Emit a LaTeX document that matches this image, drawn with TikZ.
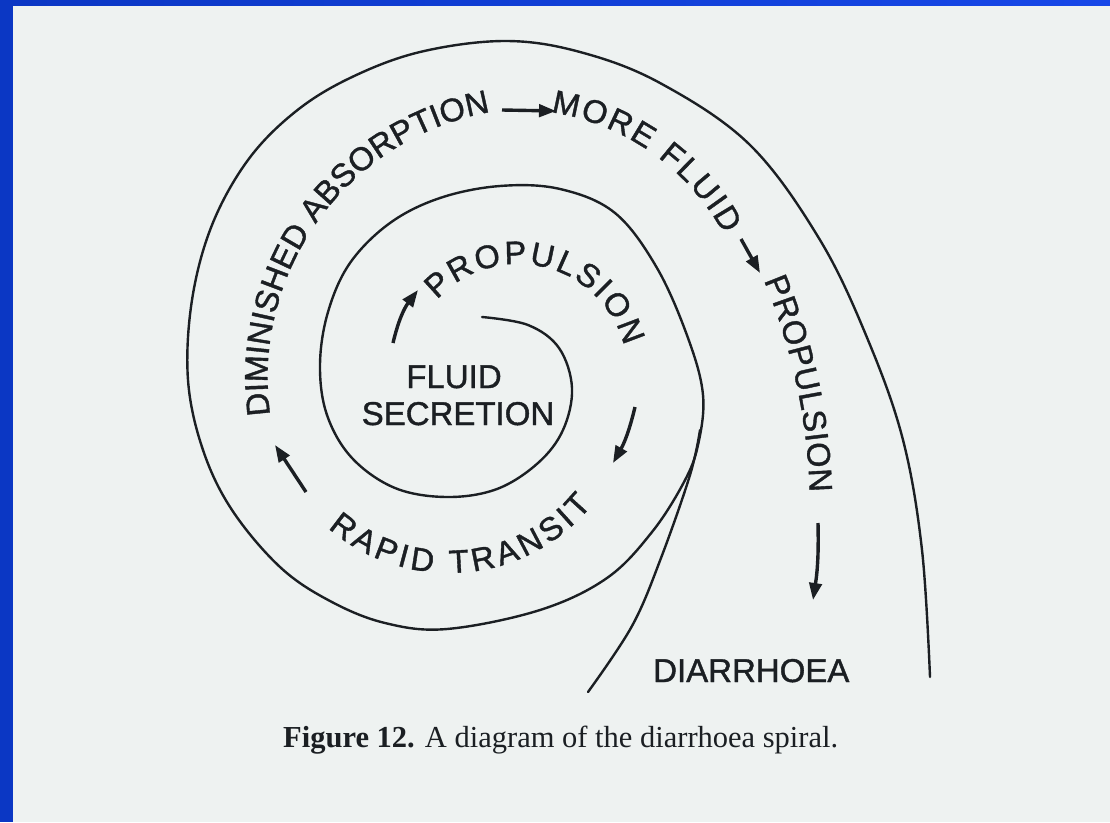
\documentclass[tikz,border=0pt]{standalone}
\usepackage{fontspec}
\setmainfont{Liberation Sans}
\newfontfamily\heavysans[FakeBold=1.2]{Liberation Sans}
\newfontfamily\capfont{Liberation Serif}
\usetikzlibrary{decorations.text,arrows.meta}
\definecolor{page}{HTML}{EEF2F1}
\definecolor{ink}{HTML}{1B1F23}
\definecolor{frameblue}{HTML}{0B37C4}
\definecolor{frameblueb}{HTML}{1748E8}
\newcommand\lblfont{\heavysans\fontsize{33}{36}\selectfont}
\newcommand\arcfont{\heavysans\fontsize{32.5}{36}\selectfont}
\tikzset{
  spiral/.style={draw=ink, line width=2.4pt, line cap=round},
  flow/.style={draw=ink, line width=3.4pt, -{Triangle[length=17pt,width=12.5pt]}},
  lbl/.style={text=ink, font=\lblfont, inner sep=0pt},
  arctext/.style={decorate, decoration={text along path, text align={fit to path}, text color=ink, text={|\arcfont|#1}}},
}
\begin{document}
\begin{tikzpicture}[x=1pt,y=-1pt]
\useasboundingbox (0,0) rectangle (1110,822);
\fill[page] (0,0) rectangle (1110,822);
\fill[frameblue] (0,0) rectangle (13,822);
\shade[left color=frameblue,right color=frameblueb] (0,0) rectangle (1110,5);

% spiral
\draw[spiral] plot[smooth, tension=0.6] coordinates {(482,317) (528,325) (559,348) (572,388) (563,430) (538,463) (497,489) (447,497) (395,488) (352,458) (327,415) (320,365) (328,312) (350,263) (390,223) (440,198) (500,186) (560,189) (615,213) (657,268) (688,338) (703,395) (698,445) (684,482) (652,532) (607,578) (540,610) (447,629) (385,623) (330,601) (280,567) (232,510) (203,450) (188,380) (192,300) (212,225) (248,160) (295,112) (350,78) (420,52) (505,41) (580,52) (660,83) (750,145) (820,240) (868,340) (903,440) (922,550) (930,677)};
% tail line
\draw[spiral] plot[smooth, tension=0.6] coordinates {(700,430) (690,475) (661,558) (632,626) (588,692)};

% texts inside
\node[lbl, anchor=base] (fluid) at (454,388) {FLUID};
\node[lbl, anchor=base] (secretion) at (458,425) {SECRETION};
\node[lbl, anchor=base west] (diarrhoea) at (653,682) {DIARRHOEA};

% curved texts (canvas y up inside this scope)
\begin{scope}[y=1pt]
\path[arctext={DIMINISHED ABSORPTION}] (270.2pt,-415.0pt) arc[start angle=187.9, end angle=100.1, radius=270pt];
\path[arctext={MORE FLUID}] (550.9pt,-112.3pt) arc[start angle=81.3, end angle=28.3, radius=237.4pt];
\path[arctext={PROPULSION}] (763.9pt,-280.4pt) arc[start angle=22.7, end angle=1.7, radius=595pt];
\path[arctext={PROPULSION}] (437.1pt,-299.9pt) arc[start angle=137.8, end angle=14.5, radius=109.4pt];
\path[arctext={RAPID TRANSIT}] (328.0pt,-527.9pt) arc[start angle=-130.9, end angle=-39.2, radius=184.7pt];
\end{scope}

% arrows
\coordinate (a1s) at (393,343); \coordinate (a1e) at (418,290);
\coordinate (a2s) at (635,407); \coordinate (a2e) at (613,463);
\coordinate (a3s) at (306,492); \coordinate (a3e) at (275,445);
\coordinate (a4s) at (502,110); \coordinate (a4e) at (556,111);
\coordinate (a5s) at (741,239); \coordinate (a5e) at (760,273);
\coordinate (a6s) at (818,523); \coordinate (a6e) at (813,600);
\draw[flow] (a1s) to[bend left=12] (a1e);
\draw[flow] (a2s) to[bend left=8] (a2e);
\draw[flow] (a3s) -- (a3e);
\draw[flow] (a4s) -- (a4e);
\draw[flow] (a5s) -- (a5e);
\draw[flow] (a6s) to[bend left=5] (a6e);

% caption
\node[anchor=base west, inner sep=0pt, text=ink, font=\capfont\fontsize{30.5}{33}\selectfont] (caption) at (283,747) {\textbf{Figure 12.} A diagram of the diarrhoea spiral.};
\end{tikzpicture}
\end{document}
